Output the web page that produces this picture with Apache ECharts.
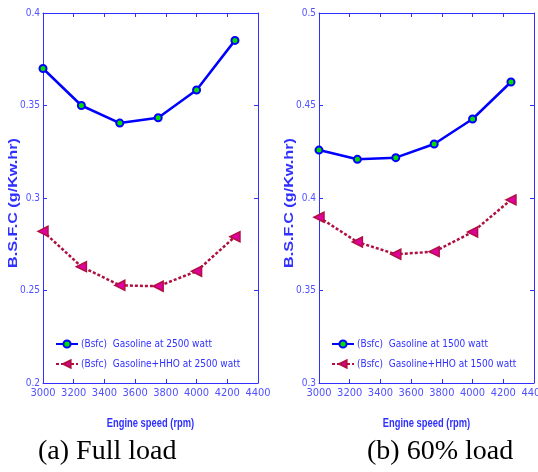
<!DOCTYPE html>
<html>
<head>
<meta charset="utf-8">
<script src="https://cdn.jsdelivr.net/npm/echarts@6/dist/echarts.min.js"></script>
<style>
  html, body { margin: 0; padding: 0; background: #fff; }
  #main { width: 538px; height: 472px; }
</style>
</head>
<body>
<div id="main"></div>
<script>
// engine speed (rpm)
var speeds = [3000, 3250, 3500, 3750, 4000, 4250];

// (a) full load, 2500 watt
var fullGas = [0.370, 0.350, 0.3405, 0.3434, 0.3584, 0.3852];
var fullHHO = [0.282, 0.2629, 0.2528, 0.2523, 0.2604, 0.2791];

// (b) 60% load, 1500 watt
var partGas = [0.4259, 0.4209, 0.4218, 0.4292, 0.4427, 0.4627];
var partHHO = [0.3896, 0.3762, 0.3696, 0.3710, 0.3816, 0.3990];

var names = [
  ['(Bsfc)  Gasoline at 2500 watt', '(Bsfc)  Gasoline+HHO at 2500 watt'],
  ['(Bsfc)  Gasoline at 1500 watt', '(Bsfc)  Gasoline+HHO at 1500 watt']
];
var captions = ['(a) Full load', '(b) 60% load'];
var yRanges = [[0.2, 0.4], [0.3, 0.5]];

var axisBlue = '#3030ff';
var labelBlue = '#5050ff';
var narrow = '"Liberation Sans Narrow", "DejaVu Sans Condensed", sans-serif';

function pairs(xs, ys) {
  return xs.map(function (x, i) { return [x, ys[i]]; });
}

var myChart = echarts.init(document.getElementById('main'));

var grids = [
  { left: 43, top: 13, width: 215, height: 370, outerBoundsMode: 'none' },
  { left: 319, top: 13, width: 215, height: 370, outerBoundsMode: 'none' }
];
var captionLeft = [38, 367];

var xAxes = [], yAxes = [], series = [], legends = [], graphics = [];

grids.forEach(function (g, k) {
  // bottom x axis with labels
  xAxes.push({
    gridIndex: k, type: 'value', min: 3000, max: 4400, interval: 200,
    axisLine: { lineStyle: { color: axisBlue, width: 1 } },
    axisTick: { inside: true, length: 4, lineStyle: { color: axisBlue } },
    axisLabel: {
      color: labelBlue, fontFamily: narrow, fontSize: 11, margin: 5,
      showMinLabel: true, showMaxLabel: true, hideOverlap: false,
      formatter: function (v) { return String(v); }
    },
    splitLine: { show: false }
  });
  // top frame
  xAxes.push({
    gridIndex: k, type: 'value', position: 'top', min: 3000, max: 4400, interval: 200,
    axisLine: { lineStyle: { color: axisBlue, width: 1 } },
    axisTick: { inside: true, length: 4, lineStyle: { color: axisBlue } },
    axisLabel: { show: false },
    splitLine: { show: false }
  });
  // left y axis with labels
  yAxes.push({
    gridIndex: k, type: 'value', min: yRanges[k][0], max: yRanges[k][1], interval: 0.05,
    axisLine: { lineStyle: { color: axisBlue, width: 1 } },
    axisTick: { inside: true, length: 4, lineStyle: { color: axisBlue } },
    axisLabel: { color: labelBlue, fontFamily: narrow, fontSize: 10, margin: 3 },
    splitLine: { show: false }
  });
  // right frame
  yAxes.push({
    gridIndex: k, type: 'value', position: 'right', min: yRanges[k][0], max: yRanges[k][1], interval: 0.05,
    axisLine: { lineStyle: { color: axisBlue, width: 1 } },
    axisTick: { inside: true, length: 4, lineStyle: { color: axisBlue } },
    axisLabel: { show: false },
    splitLine: { show: false }
  });

  legends.push({
    data: names[k],
    left: g.left + 7, top: 334, orient: 'vertical', itemGap: 10,
    itemWidth: 22, itemHeight: 9,
    textStyle: { color: axisBlue, fontFamily: narrow, fontSize: 10, padding: [0, 0, 0, -2] }
  });

  // axis titles, squeezed / stretched like the original's type
  graphics.push({
    type: 'text', x: g.left + g.width / 2, y: 423, scaleX: 0.72,
    style: {
      text: 'Engine speed (rpm)', fill: axisBlue, align: 'center', verticalAlign: 'middle',
      font: 'bold 13px "Liberation Sans", Arial, sans-serif'
    }
  });
  graphics.push({
    type: 'text', x: g.left - 29, y: 203, rotation: Math.PI / 2, scaleX: 1.35,
    style: {
      text: 'B.S.F.C (g/Kw.hr)', fill: axisBlue, align: 'center', verticalAlign: 'middle',
      font: 'bold 12px "Liberation Sans", Arial, sans-serif'
    }
  });

  graphics.push({
    type: 'text', left: captionLeft[k], top: 438,
    style: { text: captions[k], fill: '#000', font: '28px "Liberation Serif", "Times New Roman", serif' }
  });
});

var gasData = [fullGas, partGas];
var hhoData = [fullHHO, partHHO];

[0, 1].forEach(function (k) {
  series.push({
    name: names[k][0], type: 'line', xAxisIndex: k * 2, yAxisIndex: k * 2,
    data: pairs(speeds, gasData[k]),
    symbol: 'circle', symbolSize: 7,
    lineStyle: { color: '#0000ff', width: 2.5 },
    itemStyle: { color: '#00e000', borderColor: '#0000ff', borderWidth: 2 },
    z: 3
  });
  series.push({
    name: names[k][1], type: 'line', xAxisIndex: k * 2, yAxisIndex: k * 2,
    data: pairs(speeds, hhoData[k]),
    symbol: 'triangle', symbolSize: 10, symbolRotate: 90,
    lineStyle: { color: '#b01040', width: 2.5, type: [3, 2] },
    itemStyle: { color: '#e000a0', borderColor: '#b01040', borderWidth: 1.5 },
    z: 2
  });
});

var option = {
  animation: false,
  grid: grids,
  xAxis: xAxes,
  yAxis: yAxes,
  legend: legends,
  series: series,
  graphic: graphics
};

myChart.setOption(option);
</script>
</body>
</html>
